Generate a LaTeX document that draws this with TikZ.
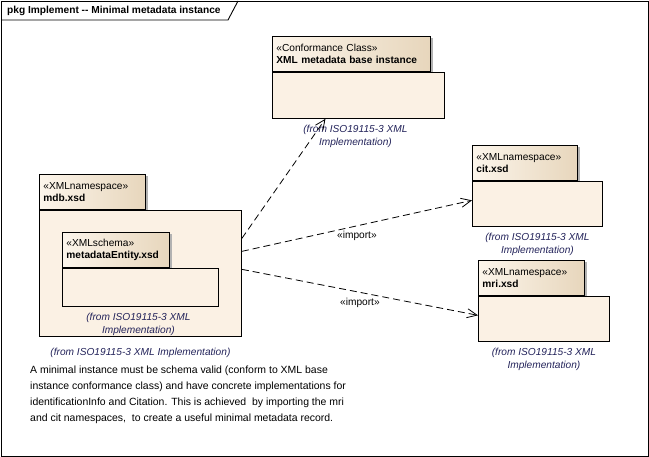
\documentclass[tikz,border=0pt]{standalone}
\usepackage{fontspec}
\setmainfont{Liberation Sans}
\usetikzlibrary{arrows.meta, positioning, calc, shadows}

\definecolor{bodyfill}{RGB}{251,241,228}
\definecolor{tableft}{RGB}{252,245,235}
\definecolor{tabright}{RGB}{231,214,188}
\definecolor{fromtext}{RGB}{35,35,90}

\begin{document}
\begin{tikzpicture}[x=1bp, y=-1bp,
  pkgtab/.style={draw, left color=tableft, right color=tabright, line width=0.9bp, inner xsep=4bp, inner ysep=0pt, minimum height=35bp, align=left, font=\fontsize{10.2}{12}\selectfont, drop shadow={shadow xshift=2.5bp, shadow yshift=-2bp, fill=black!30, opacity=1}},
  pkgbody/.style={draw, fill=bodyfill, line width=0.9bp, inner sep=0pt},
  fromlbl/.style={font=\fontsize{10.2}{12.8}\selectfont\itshape, text=fromtext, align=center, inner sep=0pt},
  import/.style={-{Straight Barb[length=10bp, width=9bp]}, dash pattern=on 7bp off 4bp, line width=0.8bp},
  stlbl/.style={font=\fontsize{10.2}{12}\selectfont, below, inner sep=5bp}
]
  \useasboundingbox (0,0) rectangle (649,457);

  % Diagram frame
  \draw[line width=0.9bp] (1,1) rectangle (648,456);
  \draw[line width=0.9bp] (1,20) -- (228,20) -- (238,1);
  \node[anchor=west, inner sep=0pt, font=\fontsize{10.2}{12}\selectfont\bfseries] (title) at (7,11) {pkg Implement -{}- Minimal metadata instance};

  % Conformance class
  \node[pkgtab, text width=150bp, anchor=north west] (conftab) at (272,36)
    {«Conformance Class»\\\textbf{XML metadata base instance}\\[1.5bp]};
  \node[pkgbody, minimum width=172bp, minimum height=46bp, below right=0pt and 0pt of conftab.south west] (confbody) {};
  \node[fromlbl, below=6bp of confbody, xshift=-3bp] (conffrom) {(from ISO19115-3 XML\\Implementation)};

  % mdb namespace
  \node[pkgtab, text width=98bp, anchor=north west] (mdbtab) at (39,174)
    {«XMLnamespace»\\\textbf{mdb.xsd}\\[1.5bp]};
  \node[pkgbody, minimum width=202bp, minimum height=126bp, below right=0pt and 0pt of mdbtab.south west] (mdbbody) {};
  \node[fromlbl, below=11bp of mdbbody] (mdbfrom) {(from ISO19115-3 XML Implementation)};

  % metadataEntity schema inside mdb
  \node[pkgtab, text width=99bp, anchor=north west] (enttab) at (62,232)
    {«XMLschema»\\\textbf{metadataEntity.xsd}\\[1.5bp]};
  \node[pkgbody, minimum width=156bp, minimum height=38bp, below right=0pt and 0pt of enttab.south west] (entbody) {};
  \node[fromlbl, below=6bp of entbody, xshift=-2bp] (entfrom) {(from ISO19115-3 XML\\Implementation)};

  % cit namespace
  \node[pkgtab, text width=97bp, anchor=north west] (cittab) at (472,145)
    {«XMLnamespace»\\\textbf{cit.xsd}\\[1.5bp]};
  \node[pkgbody, minimum width=130bp, minimum height=45bp, below right=0pt and 0pt of cittab.south west] (citbody) {};
  \node[fromlbl, below=6bp of citbody] (citfrom) {(from ISO19115-3 XML\\Implementation)};

  % mri namespace
  \node[pkgtab, text width=98bp, anchor=north west] (mritab) at (478,260)
    {«XMLnamespace»\\\textbf{mri.xsd}\\[1.5bp]};
  \node[pkgbody, minimum width=131bp, minimum height=45bp, below right=0pt and 0pt of mritab.south west] (mribody) {};
  \node[fromlbl, below=6bp of mribody] (mrifrom) {(from ISO19115-3 XML\\Implementation)};

  % Dependencies
  \draw[import] ([yshift=35bp]mdbbody.east) -- ([xshift=-33bp]confbody.south);
  \draw[import] ([yshift=22bp]mdbbody.east) -- node[stlbl] {«import»} ([yshift=3.5bp]citbody.west);
  \draw[import] ([yshift=4bp]mdbbody.east) -- node[stlbl] {«import»} ([yshift=3.5bp]mribody.west);

  % Note
  \node[anchor=north west, align=left, inner sep=0pt, font=\fontsize{10.5}{16}\selectfont] (note) at (30,366)
    {A minimal instance must be schema valid (conform to XML base\\
     instance conformance class) and have concrete implementations for\\
     identificationInfo and Citation. This is achieved\ \ by importing the mri\\
     and cit namespaces,\ \ to create a useful minimal metadata record.};
\end{tikzpicture}
\end{document}
